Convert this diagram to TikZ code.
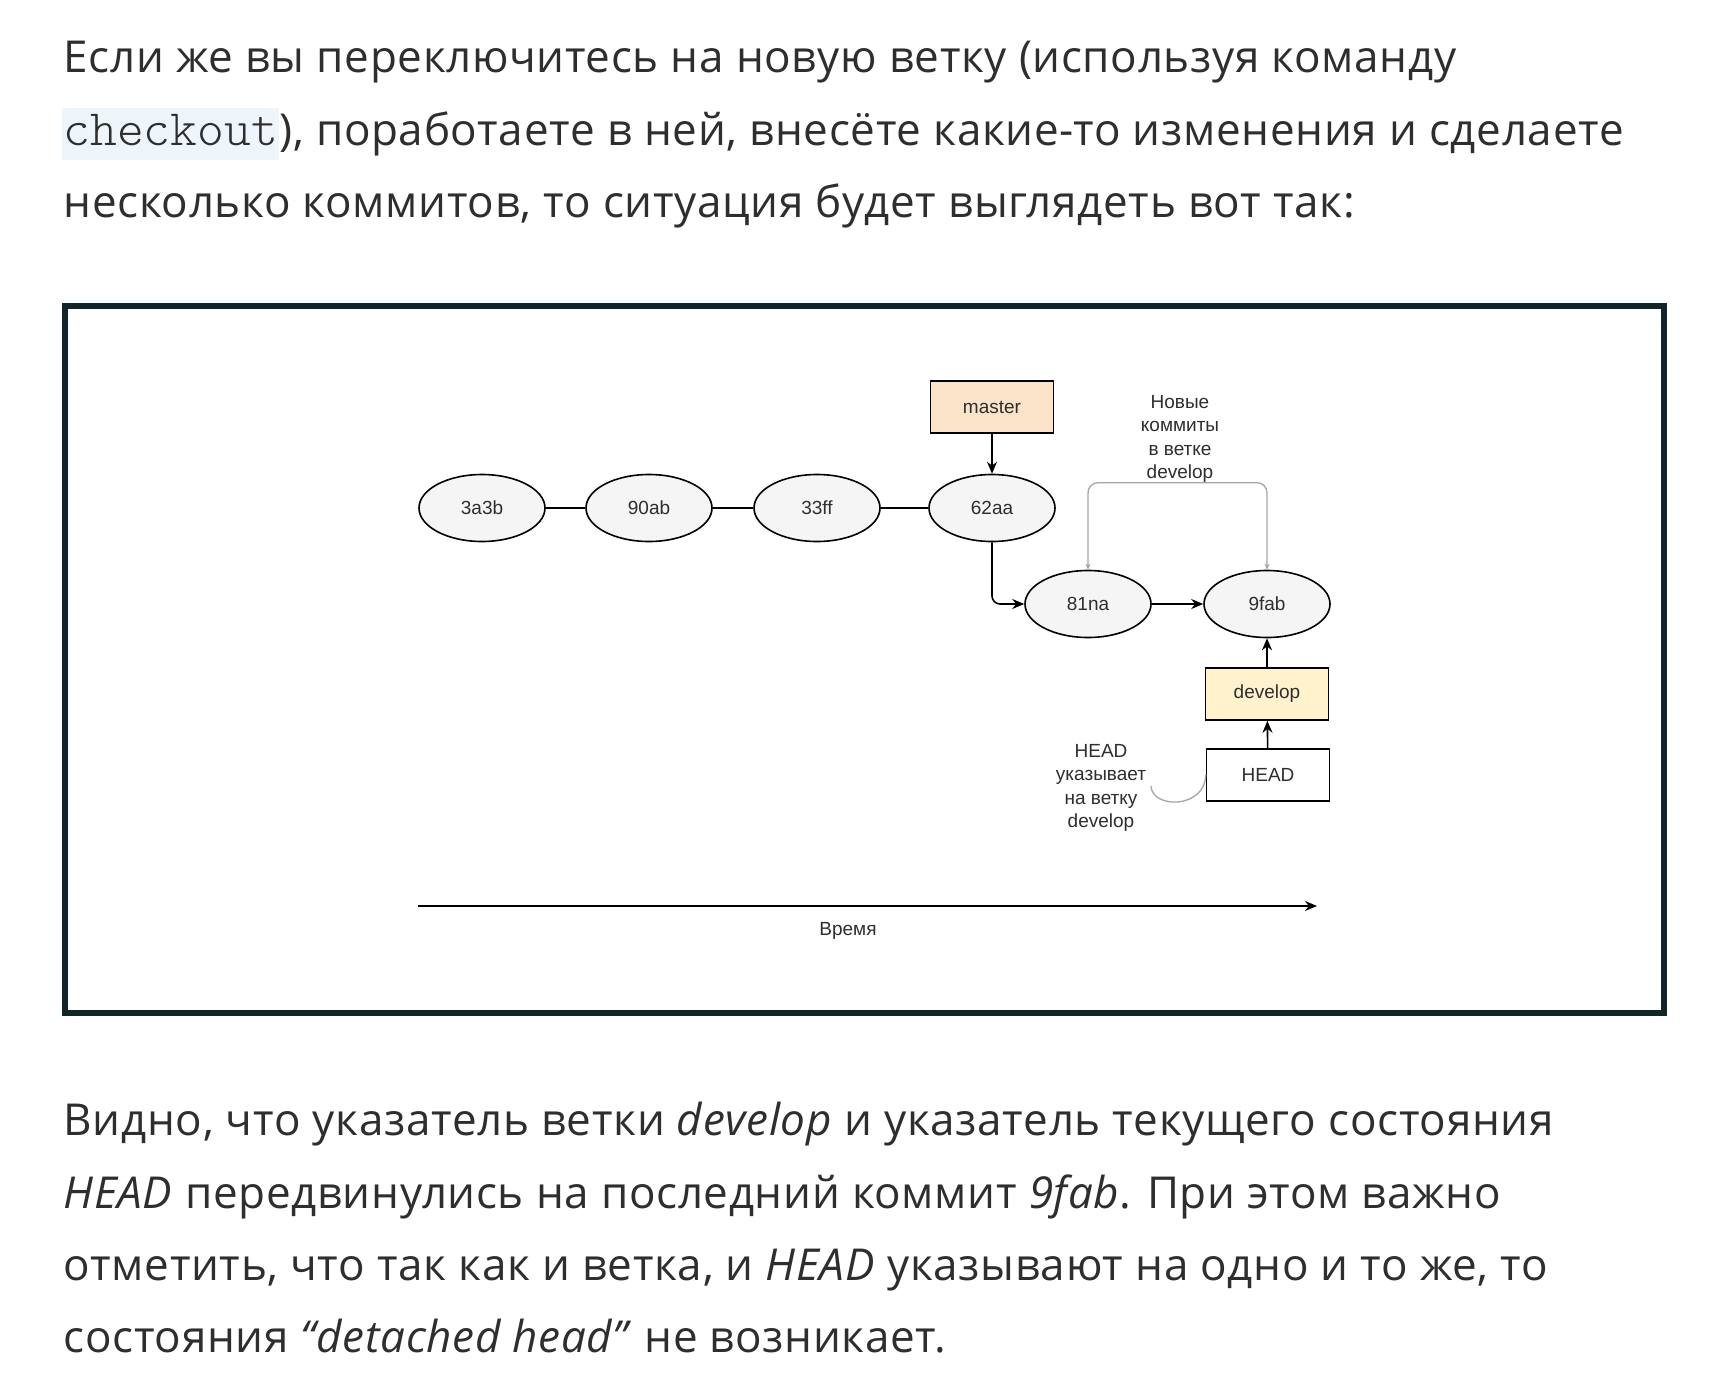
\documentclass[tikz,border=0pt]{standalone}
\usepackage{fontspec}
\setmainfont[LetterSpace=1.5]{Open Sans}
\newfontfamily\diagfont{Liberation Sans}
\newfontfamily\codefont{Latin Modern Mono Light}
\usepackage{xcolor}
\usetikzlibrary{positioning, arrows.meta, shapes.geometric}

\definecolor{txt}{HTML}{2E2E2E}
\definecolor{framecol}{HTML}{12262A}
\definecolor{commitfill}{HTML}{F5F5F5}
\definecolor{masterfill}{HTML}{FAE3C8}
\definecolor{developfill}{HTML}{FFF2CC}
\definecolor{codebg}{HTML}{EEF5FB}
\definecolor{notegray}{HTML}{A6A6A6}

\begin{document}
\begin{tikzpicture}[
    x=1pt, y=-1pt,
    para/.style={anchor=base west, inner sep=0pt, text=txt, font=\fontsize{44}{72}\selectfont},
    commit/.style={draw, ellipse, line width=1.6pt, fill=commitfill, minimum width=126pt, minimum height=67pt, inner sep=0pt, font=\diagfont\fontsize{19}{23}\selectfont, text=txt},
    branch/.style={draw, rectangle, line width=1.6pt, minimum width=123pt, minimum height=52pt, inner sep=0pt, font=\diagfont\fontsize{19}{23}\selectfont, text=txt},
    note/.style={align=center, inner sep=0pt, font=\diagfont\fontsize{19}{23.5}\selectfont, text=txt},
    link/.style={line width=1.6pt},
    ptr/.style={line width=1.6pt, -{Stealth[length=12pt, width=10pt]}},
    bracketline/.style={notegray, line width=1.3pt, {Stealth[length=6pt, width=5pt]}-{Stealth[length=6pt, width=5pt]}}
]
\path[fill=white] (0,0) rectangle (1718,1376);
\useasboundingbox (0,0) rectangle (1718,1376);

% Text above
\node[para] (l1) at (63.5,72) {Если же вы переключитесь на новую ветку (используя команду};
\node[para, fill=codebg, minimum width=217pt, inner ysep=4pt, text height=33pt, text depth=11pt, font=\codefont\fontsize{51}{72}\selectfont] (code) at (62,145) {checkout};
\node[para] (l2) at (code.base east) {), поработаете в ней, внесёте какие-то изменения и сделаете};
\node[para] (l3) at (63.5,217) {несколько коммитов, то ситуация будет выглядеть вот так:};

% Frame
\draw[framecol, line width=6pt] (64.7,306.3) rectangle (1663.6,1012.7);

% Commits
\node[commit] (c3a3b) at (482,508) {3a3b};
\node[commit] (c90ab) at (649,508) {90ab};
\node[commit] (c33ff) at (817,508) {33ff};
\node[commit] (c62aa) at (992,508) {62aa};
\node[commit] (c81na) at (1088,604) {81na};
\node[commit] (c9fab) at (1267,604) {9fab};

% Branches
\node[branch, fill=masterfill] (master) at (992,407) {master};
\node[branch, fill=developfill] (develop) at (1267,694) {develop};
\node[branch, fill=white] (head) at (1268,775) {HEAD};

% Notes
\node[note] (newnote) at (1180,439) {Новые\\коммиты\\в ветке\\develop};
\node[note] (headnote) at (1101,788) {HEAD\\указывает\\на ветку\\develop};
\coordinate (hook) at (1151,786);
\coordinate (t0) at (418,906);
\coordinate (t1) at (1317,906);
\node[note] (time) at (848,931) {Время};

% History
\draw[link] (c3a3b) -- (c90ab);
\draw[link] (c90ab) -- (c33ff);
\draw[link] (c33ff) -- (c62aa);
\draw[ptr] (master) -- (c62aa);
\draw[ptr, rounded corners=8pt] (c62aa.south) |- (c81na.west);
\draw[ptr] (c81na) -- (c9fab);
\draw[ptr] (develop) -- (c9fab);
\draw[ptr] (head) -- (develop);

% Note links
\draw[bracketline, rounded corners=10pt] (c81na.north) -- ++(0,-87) -| (c9fab.north);
\draw[notegray, line width=1.3pt] (head.west) .. controls (1205,809) and (1152,809) .. (hook);

% Time axis
\draw[ptr] (t0) -- (t1);

% Text below
\node[para] (l4) at (63.5,1135) {Видно, что указатель ветки \textit{develop} и указатель текущего состояния};
\node[para] (l5) at (63.5,1208) {\textit{HEAD} передвинулись на последний коммит {\itshape 9fab}. При этом важно};
\node[para] (l6) at (63.5,1280) {отметить, что так как и ветка, и \textit{HEAD} указывают на одно и то же, то};
\node[para] (l7) at (63.5,1352) {состояния \textit{“detached head”} не возникает.};
\end{tikzpicture}
\end{document}
